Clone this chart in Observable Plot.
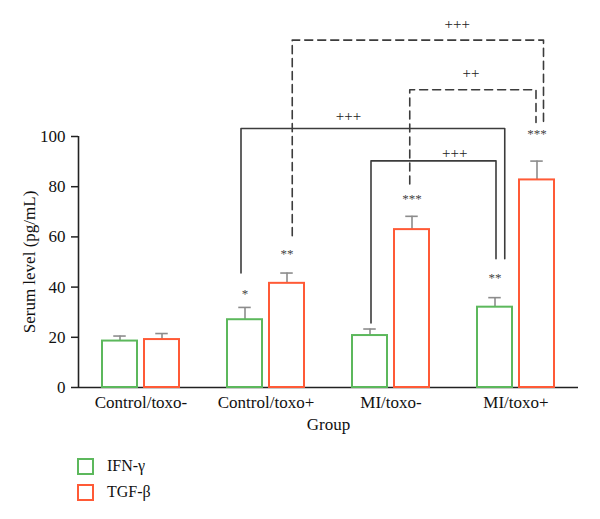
<!DOCTYPE html>
<html>
<head>
<meta charset="utf-8">
<script src="https://cdn.jsdelivr.net/npm/d3@7"></script>
<script src="https://cdn.jsdelivr.net/npm/@observablehq/plot@0.6"></script>
<style>
  html, body { margin: 0; padding: 0; background: #fff; }
  #chart svg { display: block; }
  .legend { font-family: "Liberation Serif", "DejaVu Serif", serif; font-size: 16px; color: #111; margin: 13px 0 0 77px; }
  .legend .row { display: flex; align-items: center; height: 26px; }
  .legend .sw { width: 13px; height: 13px; border: 2px solid; margin-right: 13px; box-sizing: content-box; }
</style>
</head>
<body>
<div id="chart"></div>
<script>
// Groups and the two cytokines measured in each
const groups = ["Control/toxo-", "Control/toxo+", "MI/toxo-", "MI/toxo+"];
const series = ["IFN-γ", "TGF-β"];
const colors = ["#5cb85c", "#ff5a36"];

// Mean serum levels (pg/mL) and upper error (SD)
const ifnValues = [18.5, 27.0, 20.7, 32.0];
const ifnErrors = [2.0, 4.9, 2.6, 3.8];
const tgfValues = [19.1, 41.5, 62.9, 82.7];
const tgfErrors = [2.4, 4.1, 5.3, 7.5];

const yTicks = [0, 20, 40, 60, 80, 100];

// Significance vs control, per bar
const starGroups = ["Control/toxo+", "Control/toxo+", "MI/toxo-", "MI/toxo+", "MI/toxo+"];
const starSeries = ["IFN-γ", "TGF-β", "TGF-β", "IFN-γ", "TGF-β"];
const starLabels = ["*", "**", "***", "**", "***"];
const starLevels = [38.7, 54.6, 76.2, 45.0, 102.3];

// Comparison brackets: ends (group position units), leg bottoms, top level, label
const bracketX1 = [0.80, 1.84, 1.21, 2.15];
const bracketX2 = [2.91, 2.84, 3.22, 3.16];
const bracketY1 = [45.6, 25.7, 60.5, 81.1];
const bracketY2 = [51.3, 51.3, 105.6, 105.6];
const bracketTop = [103.2, 90.3, 138.4, 118.6];
const bracketDashed = [false, false, true, true];
const bracketLabels = ["+++", "+++", "+++", "++"];
const bracketLabelX = [1.66, 2.51, 2.53, 2.64];
const bracketLabelY = [108.0, 93.2, 144.6, 125.4];

// Layout within a group (in group units)
const seriesOffset = [-0.168, 0.168];
const barHalf = 0.14;
const capHalf = 0.05;

const bars = [];
groups.forEach((g, i) => {
  [[ifnValues, ifnErrors], [tgfValues, tgfErrors]].forEach(([vals, errs], s) => {
    const cx = i + seriesOffset[s];
    bars.push({group: g, series: series[s], cx, x1: cx - barHalf, x2: cx + barHalf,
      value: vals[i], top: vals[i] + errs[i]});
  });
});

const stars = starLabels.map((label, k) => ({
  label,
  x: groups.indexOf(starGroups[k]) + seriesOffset[series.indexOf(starSeries[k])],
  y: starLevels[k]
}));

const bracketPts = [];
bracketLabels.forEach((lab, k) => {
  [[bracketX1[k], bracketY1[k]], [bracketX1[k], bracketTop[k]],
   [bracketX2[k], bracketTop[k]], [bracketX2[k], bracketY2[k]]].forEach(([x, y]) =>
    bracketPts.push({id: k, dashed: bracketDashed[k], x, y}));
});
const bracketText = bracketLabels.map((label, k) => ({label, x: bracketLabelX[k], y: bracketLabelY[k]}));

const serif = "Liberation Serif, DejaVu Serif, serif";
const lineColor = "#3c3c3c";

const chart = Plot.plot({
  width: 600,
  height: 440,
  marginLeft: 78,
  marginRight: 22,
  marginTop: 136,
  marginBottom: 53,
  style: {fontFamily: serif, background: "white", overflow: "visible"},
  x: {domain: [-0.5, 3.5]},
  y: {domain: [0, 100]},
  marks: [
    // axes
    Plot.axisY({ticks: yTicks, tickSize: 7, tickPadding: 6, fontSize: 17, stroke: "#222", strokeWidth: 1.5,
      label: "Serum level (pg/mL)", labelAnchor: "center", labelOffset: 56, labelArrow: "none", color: "#111"}),
    Plot.axisX({ticks: [0, 1, 2, 3], tickFormat: i => groups[i], tickSize: 0, tickPadding: 8, fontSize: 17,
      label: "Group", labelAnchor: "center", labelOffset: 42, labelArrow: "none", color: "#111"}),
    Plot.ruleX([-0.5], {y1: 0, y2: 100, stroke: "#222", strokeWidth: 1.6}),
    Plot.ruleY([0], {stroke: "#222", strokeWidth: 1.6}),
    // error bars
    Plot.ruleX(bars, {x: "cx", y1: "value", y2: "top", stroke: "#8c8c8c", strokeWidth: 1.6}),
    Plot.ruleY(bars, {y: "top", x1: d => d.cx - capHalf, x2: d => d.cx + capHalf, stroke: "#8c8c8c", strokeWidth: 1.6}),
    // bars
    Plot.rectY(bars, {x1: "x1", x2: "x2", y1: 0, y2: "value", fill: "white",
      stroke: d => colors[series.indexOf(d.series)], strokeWidth: 2}),
    // brackets
    Plot.line(bracketPts.filter(d => !d.dashed), {x: "x", y: "y", z: "id", stroke: lineColor, strokeWidth: 1.6}),
    Plot.line(bracketPts.filter(d => d.dashed), {x: "x", y: "y", z: "id", stroke: lineColor, strokeWidth: 1.6,
      strokeDasharray: "8,5"}),
    Plot.text(bracketText, {x: "x", y: "y", text: "label", fontSize: 15, fill: "#222"}),
    // significance stars
    Plot.text(stars, {x: "x", y: "y", text: "label", fontSize: 13, fill: "#444", dy: 3})
  ]
});
document.getElementById("chart").appendChild(chart);

const legend = document.createElement("div");
legend.className = "legend";
series.forEach((s, i) => {
  const row = document.createElement("div");
  row.className = "row";
  const sw = document.createElement("span");
  sw.className = "sw";
  sw.style.borderColor = colors[i];
  const t = document.createElement("span");
  t.textContent = s;
  row.appendChild(sw);
  row.appendChild(t);
  legend.appendChild(row);
});
document.getElementById("chart").appendChild(legend);
</script>
</body>
</html>
